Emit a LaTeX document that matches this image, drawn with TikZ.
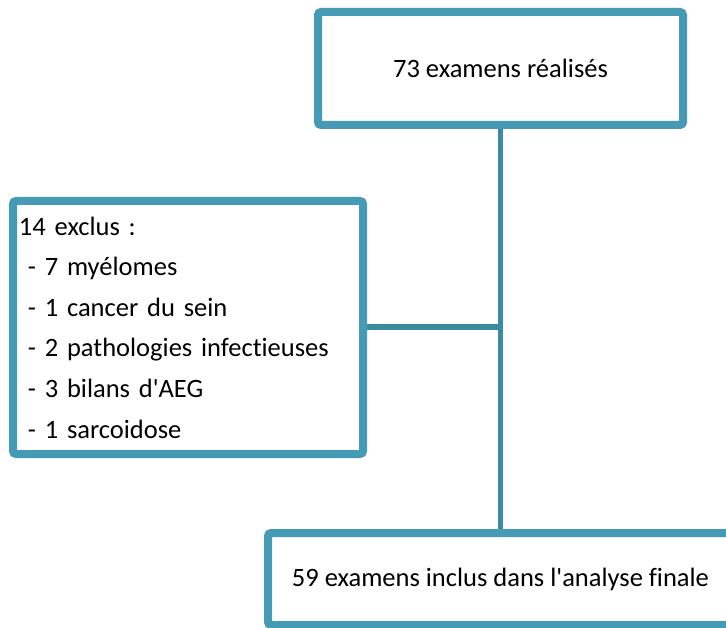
\documentclass[tikz,border=0pt]{standalone}
\usepackage{fontspec}
\setmainfont[Ligatures={TeXOff,CommonOff,ContextualOff}]{Carlito}
\usetikzlibrary{shadows}
\definecolor{boxblue}{RGB}{69,155,181}
\definecolor{lineblue}{RGB}{58,138,160}
\begin{document}
\begin{tikzpicture}[x=1pt, y=-1pt,
    flowbox/.style={draw=boxblue, line width=8pt, fill=white, rounded corners=3pt,
        drop shadow={shadow xshift=2pt, shadow yshift=-3pt, opacity=0.25}},
    link/.style={draw=lineblue, line width=5.5pt}]
\useasboundingbox (0,0) rectangle (726,628);
\clip (0,0) rectangle (726,628);
\fontsize{26.5}{40.6}\selectfont

% Connectors
\coordinate (join) at (500.5,327);

% Top box
\node[flowbox, minimum width=365pt, minimum height=113pt] (total) at (500.5,68.5) {73 examens réalisés};

% Excluded box
\node[flowbox, minimum width=350pt, minimum height=253pt, text width=338pt, align=left, inner sep=0pt] (exclus) at (188,327.5)
    {14 exclus :\\
     \ - 7 myélomes\\
     \ - 1 cancer du sein\\
     \ - 2 pathologies infectieuses\\
     \ - 3 bilans d'AEG\\
     \ - 1 sarcoidose};

% Bottom box
\node[flowbox, minimum width=465pt, minimum height=92pt] (final) at (500.5,579) {59 examens inclus dans l'analyse finale};

\draw[link] (total.south) -- (final.north);
\draw[link] (exclus.east |- join) -- (join);

\end{tikzpicture}
\end{document}
